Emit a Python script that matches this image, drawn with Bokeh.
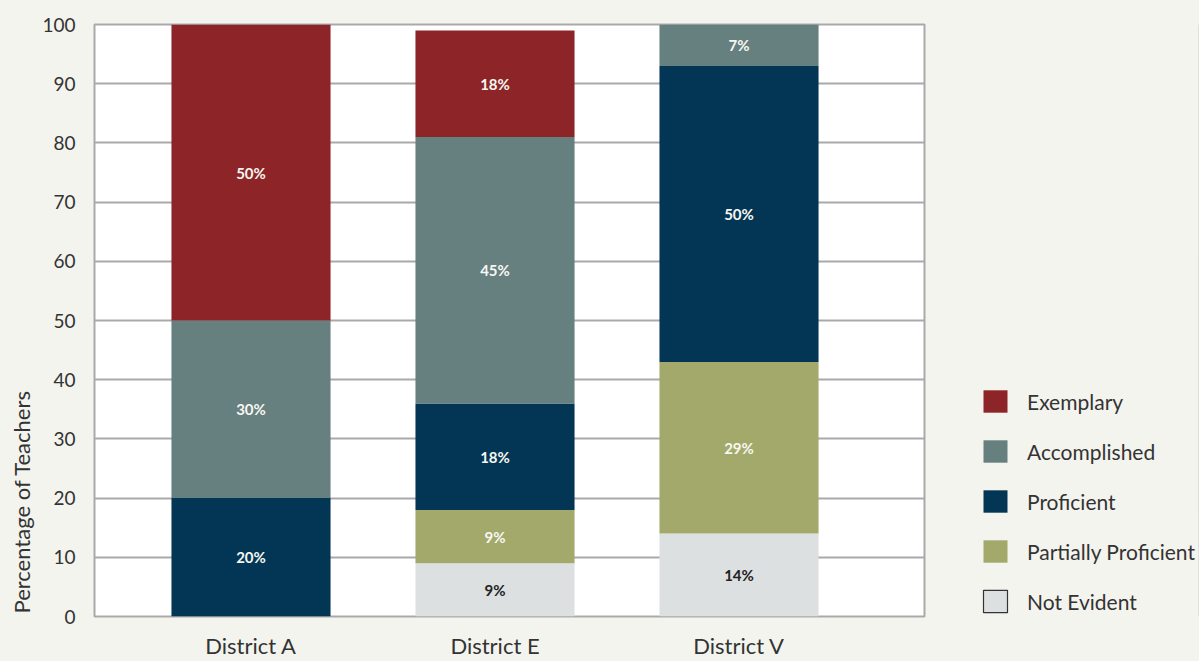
from bokeh.core.properties import value
from bokeh.embed import file_html
from bokeh.layouts import row
from bokeh.models import (ColumnDataSource, FixedTicker, LabelSet,
                          Legend, LegendItem, Range1d, Title)
from bokeh.plotting import figure
from bokeh.resources import INLINE

# ---- data -------------------------------------------------------------
districts = ["District A", "District E", "District V"]
levels = ["Not Evident", "Partially Proficient", "Proficient",
          "Accomplished", "Exemplary"]

not_evident = [0, 9, 14]
partially_proficient = [0, 9, 29]
proficient = [20, 18, 50]
accomplished = [30, 45, 7]
exemplary = [50, 18, 0]

y_ticks = [0, 10, 20, 30, 40, 50, 60, 70, 80, 90, 100]

series = {
    "Not Evident": not_evident,
    "Partially Proficient": partially_proficient,
    "Proficient": proficient,
    "Accomplished": accomplished,
    "Exemplary": exemplary,
}

# ---- styling ------------------------------------------------------------
fill = {
    "Not Evident": "#dde0e1",
    "Partially Proficient": "#a3a96a",
    "Proficient": "#033655",
    "Accomplished": "#667f7f",
    "Exemplary": "#8d2427",
}
text_col = {
    "Not Evident": "#222222",
    "Partially Proficient": "#f7f7f2",
    "Proficient": "#f7f7f2",
    "Accomplished": "#f7f7f2",
    "Exemplary": "#f7f7f2",
}
FONT = "Lato"
INK = "#333333"
GRID = "#a9a9ab"
BG = "#f4f4ef"

# horizontal slots for the three bars
x_pos = [1, 2, 3]
bar_w = 0.652

p = figure(width=926, height=661, output_backend="svg", toolbar_location=None,
           x_range=Range1d(0.3586, 3.7602), y_range=Range1d(0, 100),
           min_border_left=94, min_border_right=2,
           min_border_top=24, min_border_bottom=44)

p.border_fill_color = BG
p.background_fill_color = "white"
p.outline_line_color = GRID
p.outline_line_width = 2

# ---- stacked bars -------------------------------------------------------
lab_x, lab_y, lab_t, lab_c = [], [], [], []
base = [0] * len(districts)
for lvl in levels:
    vals = series[lvl]
    top = [b + v for b, v in zip(base, vals)]
    src = ColumnDataSource(dict(x=x_pos, bottom=base, top=top))
    p.vbar(x="x", bottom="bottom", top="top", width=bar_w, source=src,
           fill_color=fill[lvl], line_color=None)
    for xi, b, v in zip(x_pos, base, vals):
        if v > 0:
            lab_x.append(xi)
            lab_y.append(b + v / 2)
            lab_t.append(f"{v}%")
            lab_c.append(text_col[lvl])
    base = top

labels = LabelSet(x="x", y="y", text="t", text_color="c",
                  source=ColumnDataSource(dict(x=lab_x, y=lab_y, t=lab_t, c=lab_c)),
                  text_font=value(FONT), text_font_style="bold",
                  text_font_size="15px", text_align="center",
                  text_baseline="middle")
p.add_layout(labels)

# ---- axes & grid --------------------------------------------------------
p.xgrid.grid_line_color = None
p.ygrid.ticker = FixedTicker(ticks=y_ticks)
p.ygrid.grid_line_color = GRID
p.ygrid.grid_line_width = 2

p.yaxis.ticker = FixedTicker(ticks=y_ticks)
p.xaxis.ticker = FixedTicker(ticks=x_pos)
p.xaxis.major_label_overrides = {x: d for x, d in zip(x_pos, districts)}

for ax in (p.xaxis[0], p.yaxis[0]):
    ax.axis_line_color = None
    ax.major_tick_line_color = None
    ax.minor_tick_line_color = None
    ax.major_tick_in = 0
    ax.major_tick_out = 0
    ax.minor_tick_in = 0
    ax.minor_tick_out = 0
    ax.major_label_text_font = FONT
    ax.major_label_text_color = INK

p.yaxis.major_label_text_font_size = "19px"
p.xaxis.major_label_text_font_size = "22px"
p.yaxis.major_label_standoff = 19
p.xaxis.major_label_standoff = 15

# y title, anchored at the bottom of the plot area
p.add_layout(Title(text="Percentage of Teachers", align="left", offset=3,
                   standoff=10, text_font=FONT, text_font_size="22px",
                   text_font_style="normal", text_color=INK), "left")

# ---- legend panel -------------------------------------------------------
lf = figure(width=273, height=661, output_backend="svg", toolbar_location=None,
            x_range=Range1d(0, 1), y_range=Range1d(0, 1),
            x_axis_type=None, y_axis_type=None, min_border=0)
lf.border_fill_color = BG
lf.background_fill_color = BG
lf.outline_line_color = None
lf.grid.grid_line_color = None

items = []
for lvl in reversed(levels):
    # swatch carriers sit outside the visible range; only the legend shows them
    r = lf.vbar(x=[5], bottom=[0], top=[1], width=1, fill_color=fill[lvl],
                line_color="#333333" if lvl == "Not Evident" else None,
                line_width=1.2)
    items.append(LegendItem(label=lvl, renderers=[r]))

legend = Legend(items=items, location=(54, 1), orientation="vertical",
                glyph_width=30, glyph_height=28, label_standoff=17,
                spacing=22, padding=0, margin=0,
                border_line_color=None, background_fill_alpha=0,
                label_text_font=FONT, label_text_font_size="21px",
                label_text_color=INK)
lf.add_layout(legend)

layout = row(p, lf, spacing=0)
layout.styles = {"background-color": BG}

open("out.html", "w").write(file_html(layout, INLINE))
